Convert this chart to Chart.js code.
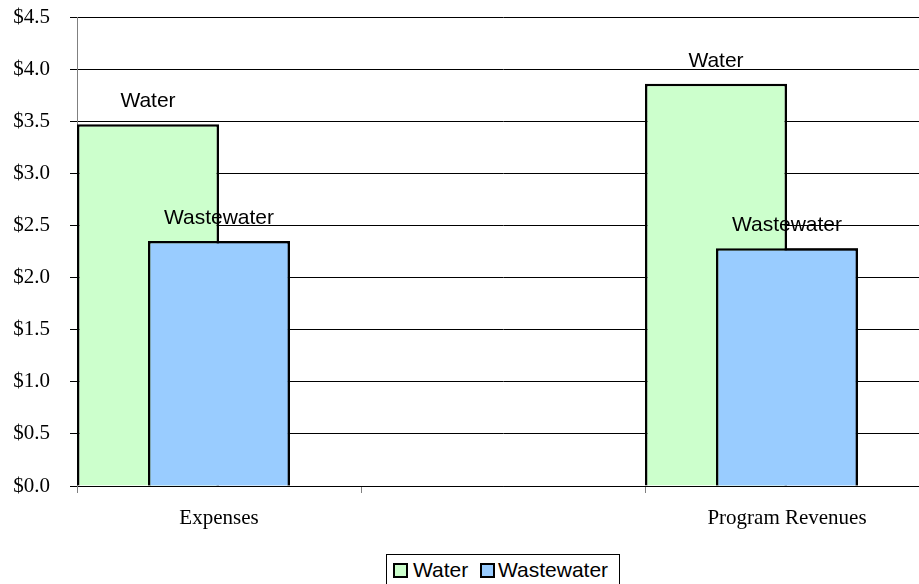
<!DOCTYPE html>
<html>
<head>
<meta charset="utf-8">
<script src="https://cdn.jsdelivr.net/npm/chart.js@4.4.1/dist/chart.umd.min.js"></script>
<style>
  html, body { margin: 0; padding: 0; background: #fff; overflow: hidden; width: 919px; height: 584px; }
  #wrap { position: absolute; left: 0; top: 0; width: 929px; height: 584px; }
  #legend {
    position: absolute; left: 386px; top: 554px; width: 234px; height: 40px;
    border: 1px solid #000; box-sizing: border-box; background: #fff;
    font-family: 'Liberation Sans', Arial, sans-serif; font-size: 21px; color: #000;
  }
  #legend span.box {
    position: absolute; top: 8px; width: 11px; height: 11px; border: 2px solid #000;
  }
  #legend span.txt { position: absolute; top: 3px; line-height: 24px; }
</style>
</head>
<body>
<div id="wrap"><canvas id="fundChart"></canvas></div>
<div id="legend">
  <span class="box" style="left:6px;background:#CCFFCC"></span><span class="txt" style="left:26px">Water</span>
  <span class="box" style="left:93px;background:#99CCFF"></span><span class="txt" style="left:111px">Wastewater</span>
</div>
<script>
// values in $ (millions)
const categories = ['Expenses', '', 'Program Revenues'];
const waterValues = [3.47, null, 3.86];
const wastewaterValues = [2.35, null, 2.28];
const spareValues = [null, null, null]; // empty third series (keeps Excel's bar layout)

const yMin = 0;
const yMax = 4.5;
const yStep = 0.5;

// draw the wastewater bars over the water bars, then the series-name labels
const barLabels = {
  id: 'barLabels',
  afterDatasetsDraw(chart) {
    chart.getDatasetMeta(1).controller.draw();
    const ctx = chart.ctx;
    ctx.save();
    ctx.font = "21px 'Liberation Sans', Arial, sans-serif";
    ctx.fillStyle = '#000';
    ctx.textAlign = 'center';
    ctx.textBaseline = 'alphabetic';
    [0, 1].forEach((i) => {
      const ds = chart.data.datasets[i];
      chart.getDatasetMeta(i).data.forEach((bar, j) => {
        if (ds.data[j] == null) return;
        ctx.fillText(ds.label, bar.x, bar.y - 17);
      });
    });
    ctx.restore();
  }
};

const ctx = document.getElementById('fundChart').getContext('2d');
new Chart(ctx, {
  type: 'bar',
  data: {
    labels: categories,
    datasets: [
      { label: 'Water', data: waterValues, backgroundColor: '#CCFFCC', borderColor: '#000', borderWidth: 2.5 },
      { label: 'Wastewater', data: wastewaterValues, backgroundColor: '#99CCFF', borderColor: '#000', borderWidth: 2.5 },
      { label: '', data: spareValues, backgroundColor: 'rgba(0,0,0,0)' }
    ]
  },
  options: {
    responsive: true,
    maintainAspectRatio: false,
    animation: false,
    events: [],
    layout: { padding: { top: 17, left: 0, right: 0, bottom: 0 } },
    datasets: {
      bar: { categoryPercentage: 0.75, barPercentage: 2 }
    },
    plugins: {
      legend: { display: false },
      tooltip: { enabled: false }
    },
    scales: {
      x: {
        offset: true,
        grid: { offset: true, drawOnChartArea: false, tickLength: 7, color: '#808080' },
        border: { color: '#000', width: 1 },
        ticks: {
          color: '#000',
          padding: 13,
          font: { family: "'Liberation Serif', 'Times New Roman', serif", size: 21 }
        },
        afterFit(scale) { scale.height = 98; }
      },
      y: {
        min: yMin,
        max: yMax,
        grid: { color: '#000', lineWidth: 1, tickLength: 7 },
        border: { color: '#808080', width: 1 },
        ticks: {
          stepSize: yStep,
          color: '#000',
          padding: 20,
          font: { family: "'Liberation Serif', 'Times New Roman', serif", size: 21 },
          callback: (v) => '$' + Number(v).toFixed(1)
        },
        afterFit(scale) {
          scale.width = 77;
          scale.paddingTop = 0;
          scale.paddingBottom = 0;
        }
      }
    }
  },
  plugins: [barLabels]
});
</script>
</body>
</html>
